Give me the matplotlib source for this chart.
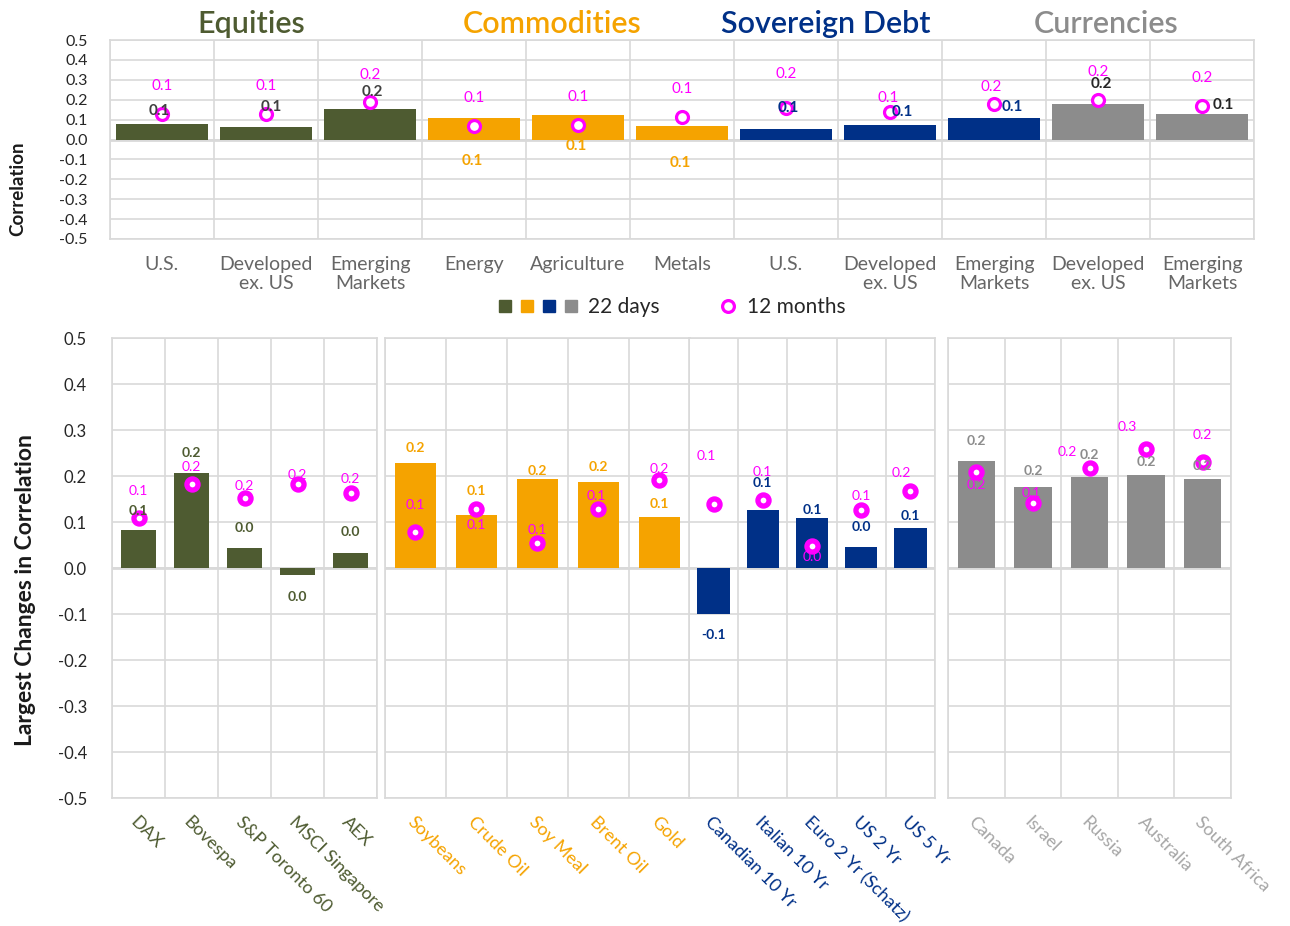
import numpy as np
import matplotlib.pyplot as plt
from matplotlib.lines import Line2D
from matplotlib.legend_handler import HandlerTuple
import matplotlib.transforms as mtransforms

plt.rcParams['font.family'] = ['Lato', 'DejaVu Sans']
plt.rcParams['axes.unicode_minus'] = False

# --- top panel: asset classes ---
groups = ["Equities", "Commodities", "Sovereign Debt", "Currencies"]
top_cats = ["U.S.", "Developed\nex. US", "Emerging\nMarkets",
            "Energy", "Agriculture", "Metals",
            "U.S.", "Developed\nex. US", "Emerging\nMarkets",
            "Developed\nex. US", "Emerging\nMarkets"]
top_group = [0, 0, 0, 1, 1, 1, 2, 2, 2, 3, 3]
top_22d = [0.076, 0.061, 0.155, 0.108, 0.122, 0.066, 0.052, 0.074, 0.107, 0.179, 0.128]
top_12m = [0.127, 0.127, 0.189, 0.069, 0.073, 0.115, 0.160, 0.139, 0.176, 0.201, 0.170]

# --- bottom panels: largest changes ---
eq_names = ["DAX", "Bovespa", "S&P Toronto 60", "MSCI Singapore", "AEX"]
eq_22d = [0.083, 0.207, 0.044, -0.014, 0.034]
eq_12m = [0.110, 0.183, 0.153, 0.183, 0.163]

com_names = ["Soybeans", "Crude Oil", "Soy Meal", "Brent Oil", "Gold"]
com_22d = [0.228, 0.115, 0.194, 0.188, 0.112]
com_12m = [0.078, 0.129, 0.056, 0.129, 0.191]

sov_names = ["Canadian 10 Yr", "Italian 10 Yr", "Euro 2 Yr (Schatz)", "US 2 Yr", "US 5 Yr"]
sov_22d = [-0.099, 0.127, 0.110, 0.046, 0.088]
sov_12m = [0.139, 0.148, 0.048, 0.127, 0.168]

fx_names = ["Canada", "Israel", "Russia", "Australia", "South Africa"]
fx_22d = [0.234, 0.177, 0.198, 0.202, 0.195]
fx_12m = [0.209, 0.142, 0.217, 0.260, 0.231]

# colours
colors = ["#4E5B31", "#F5A300", "#003087", "#8C8C8C"]
top_lbl_colors = ["#404040", "#F5A300", "#003087", "#262626"]
bot_lbl_colors = ["#4E5B31", "#F5A300", "#003087", "#8C8C8C"]
bot_tick_colors = ["#4E5B31", "#F5A300", "#003087", "#A6A6A6"]
pink = "#FF00FF"
grid_c = "#D9D9D9"

# label offsets in pixels (dx, dy)
top_bar_off = [(-3, 13), (5, 20), (2, 17), (-2, -43), (-2, -31), (-2, -37),
               (2, 21), (12, 13), (18, 11), (3, 20), (21, 9)]
top_pink_off = [(0, 28), (0, 28), (0, 27), (0, 28), (0, 28), (0, 28),
                (0, 34), (-2, 14), (-3, 17), (0, 28), (0, 28)]
bot_bar_off = [[19, 20, 20, -22, 21],
               [15, 24, 8, 15, 13],
               [-21, 27, 8, 20, 12],
               [20, 16, 22, 13, 13]]
bot_pink_off = [[(0, 27), (0, 17), (0, 12), (0, 9), (0, 14)],
                [(0, 27), (0, -16), (0, 13), (-2, 13), (0, 11)],
                [(-7, 48), (0, 28), (0, -11), (0, 14), (-9, 18)],
                [(0, -13), (-2, 10), (-22, 16), (-19, 22), (0, 27)]]


def fmt(v):
    s = f"{v:.1f}"
    return "0.0" if s == "-0.0" else s


def style_grid(ax, n, yticks):
    ax.set_xlim(-0.5, n - 0.5)
    ax.set_ylim(-0.5, 0.5)
    ax.set_yticks(yticks)
    ax.set_xticks(np.arange(-0.5, n), minor=True)
    ax.grid(True, which='major', axis='y', color=grid_c, lw=1.2)
    ax.grid(True, which='minor', axis='x', color=grid_c, lw=1.2)
    ax.set_axisbelow(True)
    for s in ax.spines.values():
        s.set_color(grid_c)
        s.set_linewidth(1.2)
    ax.tick_params(which='both', length=0)


W, H = 1290, 926
fig = plt.figure(figsize=(W / 100, H / 100), dpi=100)

yt = np.round(np.arange(-0.5, 0.51, 0.1), 1)
yt_labels = [fmt(t) for t in yt]

# ---------------- top panel ----------------
ax = fig.add_axes([110 / W, 1 - 239 / H, 1144 / W, 199 / H])
n = len(top_cats)
x = np.arange(n)
style_grid(ax, n, yt)
ax.axhline(0, color=grid_c, lw=2, zorder=1)
ax.bar(x, top_22d, width=0.89, color=[colors[g] for g in top_group], zorder=2)
ax.plot(x, top_12m, ls='none', marker='o', ms=8.6, mfc='white', mec=pink, mew=2.3, zorder=4)
for i in range(n):
    g = top_group[i]
    ax.annotate(fmt(top_22d[i]), (x[i], top_22d[i]), xytext=top_bar_off[i],
                textcoords='offset pixels', ha='center', va='center',
                fontsize=11, fontweight='bold', color=top_lbl_colors[g], zorder=5)
    ax.annotate(fmt(top_12m[i]), (x[i], top_12m[i]), xytext=top_pink_off[i],
                textcoords='offset pixels', ha='center', va='center',
                fontsize=11, color=pink, zorder=5)
ax.set_yticklabels(yt_labels, fontsize=11.5, color="#262626")
ax.set_xticks(x)
ax.set_xticklabels(top_cats, fontsize=14, color="#666666", linespacing=1.2)
ax.tick_params(axis='x', pad=12)
ax.tick_params(axis='y', pad=16)

trans = mtransforms.blended_transform_factory(ax.transData, ax.transAxes)
title_x = [0.86, 3.75, 6.38, 9.08]
for gi, name in enumerate(groups):
    ax.text(title_x[gi], 1.08, name, transform=trans, ha='center', va='center',
            fontsize=22, fontweight='semibold', color=colors[gi])

fig.text(18 / W, 1 - 189 / H, "Correlation", rotation=90, ha='center', va='center',
         fontsize=13.5, fontweight='bold', color="#1a1a1a")

# legend
sq = tuple(Line2D([], [], ls='none', marker='s', ms=8.8, color=c) for c in colors)
fig.legend([sq], ["22 days"], handler_map={tuple: HandlerTuple(ndivide=None, pad=0)},
           loc='center left', bbox_to_anchor=(494 / W, 1 - 307 / H), frameon=False,
           fontsize=15, handlelength=4.2, handletextpad=0.3, borderpad=0, borderaxespad=0,
           labelcolor="#262626")
circ = Line2D([], [], ls='none', marker='o', ms=8.5, mfc='white', mec=pink, mew=2.3)
fig.legend([circ], ["12 months"], loc='center left', bbox_to_anchor=(720 / W, 1 - 307 / H),
           frameon=False, fontsize=15, handlelength=0.8, handletextpad=0.5, borderpad=0,
           borderaxespad=0, labelcolor="#262626")

# ---------------- bottom panels ----------------
panels = [
    (112, 265, eq_names, eq_22d, eq_12m),
    (385, 305, com_names, com_22d, com_12m),
    (689, 246, sov_names, sov_22d, sov_12m),
    (948, 283, fx_names, fx_22d, fx_12m),
]
for pi, (left, width, names, v22, v12) in enumerate(panels):
    ax = fig.add_axes([left / W, 1 - 798.3 / H, width / W, 460 / H])
    n = len(names)
    x = np.arange(n)
    style_grid(ax, n, yt)
    ax.axhline(0, color=grid_c, lw=2, zorder=1)
    ax.bar(x, v22, width=0.66, color=colors[pi], zorder=2)
    ax.plot(x, v12, ls='none', marker='o', ms=8, mfc='white', mec=pink, mew=3.8, zorder=4)
    for i in range(n):
        ax.annotate(fmt(v22[i]), (x[i], v22[i]), xytext=(0, bot_bar_off[pi][i]),
                    textcoords='offset pixels', ha='center', va='center',
                    fontsize=10, fontweight='bold', color=bot_lbl_colors[pi], zorder=5)
        ax.annotate(fmt(v12[i]), (x[i], v12[i]), xytext=bot_pink_off[pi][i],
                    textcoords='offset pixels', ha='center', va='center',
                    fontsize=10, color=pink, zorder=5)
    ax.set_xticks(x)
    ax.set_xticklabels(names, fontsize=13, color=bot_tick_colors[pi],
                       rotation=-45, ha='left', va='top', rotation_mode='anchor')
    ax.tick_params(axis='x', pad=11)
    if pi == 0:
        ax.set_yticklabels(yt_labels, fontsize=12, color="#262626")
        ax.tick_params(axis='y', pad=18)
    else:
        ax.set_yticklabels([])

fig.text(26 / W, 1 - 590 / H, "Largest Changes in Correlation", rotation=90,
         ha='center', va='center', fontsize=16.5, fontweight='bold', color="#1a1a1a")

fig.savefig("out.png", dpi=100)
